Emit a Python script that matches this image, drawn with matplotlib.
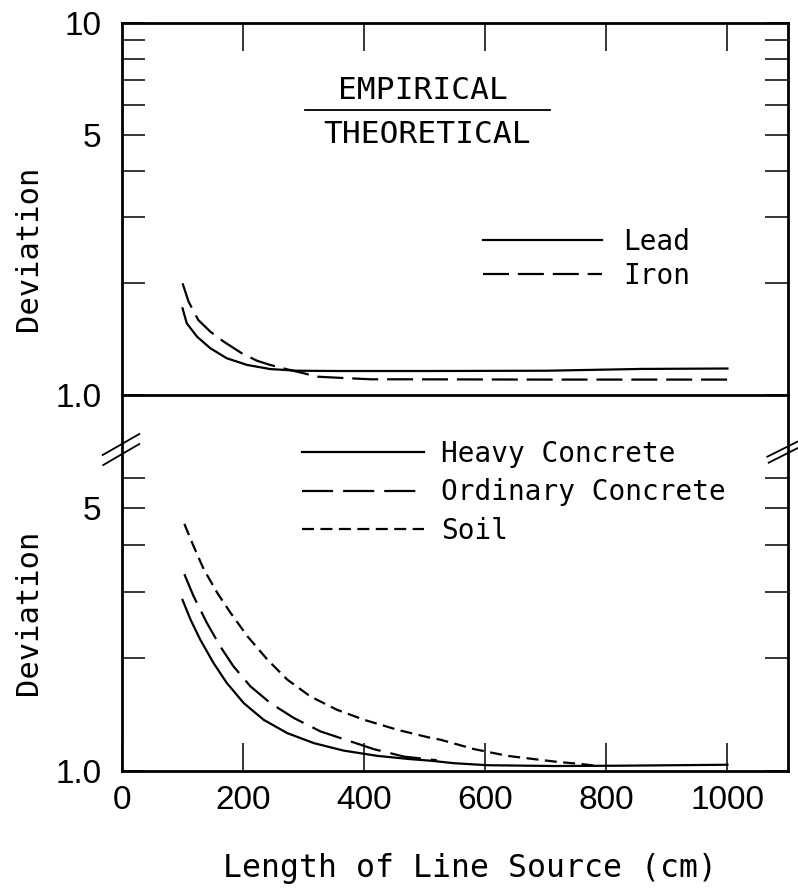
import matplotlib
matplotlib.use("Agg")
import matplotlib.pyplot as plt
from matplotlib.lines import Line2D
from matplotlib.ticker import NullLocator

# top panel: lead / iron
lead_x = [100, 107, 124, 146, 173, 207, 245, 289, 355, 510, 700, 860, 1000]
lead_y = [1.709, 1.558, 1.434, 1.335, 1.255, 1.204, 1.174, 1.162, 1.160, 1.160, 1.162, 1.175, 1.178]
iron_x = [100, 110, 126, 146, 168, 198, 223, 245, 273, 300, 322, 355, 411, 465, 700, 1000]
iron_y = [1.995, 1.781, 1.590, 1.479, 1.391, 1.294, 1.236, 1.204, 1.172, 1.144, 1.120, 1.113, 1.102, 1.102, 1.100, 1.100]

# bottom panel: concretes / soil
heavy_x = [100, 113, 129, 151, 173, 201, 234, 273, 317, 366, 422, 477, 510, 548, 604, 714, 824, 1000]
heavy_y = [2.851, 2.531, 2.239, 1.939, 1.715, 1.516, 1.368, 1.261, 1.186, 1.133, 1.097, 1.075, 1.065,
           1.049, 1.036, 1.031, 1.033, 1.039]
ordinary_x = [103, 118, 140, 162, 184, 212, 245, 284, 328, 378, 416, 466, 520]
ordinary_y = [3.338, 2.922, 2.480, 2.148, 1.899, 1.680, 1.516, 1.383, 1.274, 1.198, 1.143, 1.092, 1.068]
soil_x = [103, 118, 135, 157, 179, 207, 240, 273, 311, 355, 400, 455, 505, 527, 582, 637, 692, 720, 758, 786]
soil_y = [4.54, 3.97, 3.44, 2.983, 2.638, 2.284, 1.979, 1.750, 1.579, 1.455, 1.368, 1.287, 1.230,
          1.210, 1.143, 1.097, 1.070, 1.057, 1.044, 1.031]

x_ticks = [0, 200, 400, 600, 800, 1000]
top_yticks = [1, 2, 3, 4, 5, 6, 7, 8, 9, 10]
top_ylabels = ['1.0', '', '', '', '5', '', '', '', '', '10']
bot_yticks = [1, 2, 3, 4, 5, 6]
bot_ylabels = ['1.0', '', '', '', '5', '']

W, H = 798, 890
text_font = ['DejaVu Sans Mono']
num_font = ['Liberation Sans', 'DejaVu Sans']

fig = plt.figure(figsize=(W / 100, H / 100), dpi=100)
ax2 = fig.add_axes([122 / W, 1 - 771 / H, 666 / W, 376 / H])
ax1 = fig.add_axes([122 / W, 1 - 395 / H, 666 / W, 372.3 / H])

lw = 1.6
ax1.plot(lead_x, lead_y, color='black', lw=lw, label='Lead')
ax1.plot(iron_x, iron_y, color='black', lw=lw, dashes=(11.7, 4), label='Iron')
ax2.plot(heavy_x, heavy_y, color='black', lw=lw, label='Heavy Concrete')
ax2.plot(ordinary_x, ordinary_y, color='black', lw=lw, dashes=(14, 4.5), label='Ordinary Concrete')
ax2.plot(soil_x, soil_y, color='black', lw=lw, dashes=(5.4, 2.9), label='Soil')

for ax in (ax1, ax2):
    ax.patch.set_visible(False)
    ax.set_yscale('log')
    ax.set_ylim(1, 10)
    ax.set_xlim(0, 1100)
    ax.yaxis.set_minor_locator(NullLocator())
    ax.xaxis.set_minor_locator(NullLocator())
    for s in ax.spines.values():
        s.set_linewidth(2.0)
    ax.tick_params(axis='y', which='both', direction='in', left=True, right=True,
                   length=16.5, width=1.1, pad=15, labelsize=24)
    ax.tick_params(axis='x', direction='in', length=20, width=1.1, pad=10, labelsize=24)

ax1.set_yticks(top_yticks)
ax1.set_yticklabels(top_ylabels)
ax1.set_xticks(x_ticks[1:])
ax1.tick_params(axis='x', top=True, bottom=False, labelbottom=False, labeltop=False)

ax2.set_yticks(bot_yticks)
ax2.set_yticklabels(bot_ylabels)
ax2.set_xticks(x_ticks)
ax2.set_xticklabels([str(v) for v in x_ticks])
ax2.spines['top'].set_visible(False)

for ax in (ax1, ax2):
    for lab in ax.get_xticklabels() + ax.get_yticklabels():
        lab.set_family(num_font)

# fraction label
ax1.text(0.452, 0.794, 'EMPIRICAL', transform=ax1.transAxes, ha='center', va='baseline',
         fontsize=22.5, family=text_font)
ax1.text(0.458, 0.676, 'THEORETICAL', transform=ax1.transAxes, ha='center', va='baseline',
         fontsize=22.5, family=text_font)
ax1.add_line(Line2D([0.275, 0.643], [0.7655, 0.7655], transform=ax1.transAxes, color='black', lw=1.3))

leg1 = ax1.legend(loc='upper left', bbox_to_anchor=(0.542, 0.4486), frameon=False,
                  borderpad=0, borderaxespad=0, handlelength=4.3, handletextpad=0.75,
                  labelspacing=0.2, prop={'family': text_font, 'size': 20})
leg2 = ax2.legend(loc='upper left', bbox_to_anchor=(0.270, 0.881), frameon=False,
                  borderpad=0, borderaxespad=0, handlelength=4.4, handletextpad=0.62,
                  labelspacing=0.38, prop={'family': text_font, 'size': 20})

fig.text(29 / W, 1 - 248 / H, 'Deviation', rotation=90, ha='center', va='center',
         fontsize=22, family=text_font)
fig.text(29 / W, 1 - 612 / H, 'Deviation', rotation=90, ha='center', va='center',
         fontsize=22, family=text_font)
fig.text(470 / W, 1 - 877 / H, 'Length of Line Source (cm)', ha='center', va='baseline',
         fontsize=22.7, family=text_font)


# axis break marks
def px_line(x0, y0, x1, y1):
    fig.add_artist(Line2D([x0 / W, x1 / W], [1 - y0 / H, 1 - y1 / H],
                          transform=fig.transFigure, color='black', lw=1.3))


px_line(102.7, 455, 139.3, 434)
px_line(103.3, 465, 139.3, 444)
px_line(767.3, 456.7, 797.3, 441.7)
px_line(768.7, 462.7, 797.3, 448.3)

fig.savefig('out.png', dpi=100)
